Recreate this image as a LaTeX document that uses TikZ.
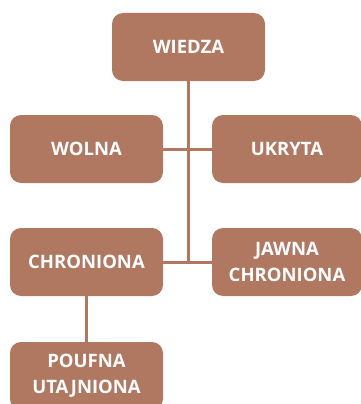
\documentclass[tikz,border=0pt]{standalone}
\usepackage{fontspec}
\setmainfont{Open Sans}
\definecolor{clay}{RGB}{176,119,97}
\begin{document}
\begin{tikzpicture}[x=1pt,y=-1pt,
  box/.style={fill=clay, draw=none, rounded corners=11pt,
    minimum width=153pt, minimum height=68pt, inner sep=0pt,
    text=white, align=center,
    font=\fontsize{18.5}{26}\selectfont\bfseries},
  link/.style={draw=clay, line width=3pt}]
  \useasboundingbox (0,0) rectangle (360,404);
  % boxes
  \node[box] (wiedza) at (188.5,47) {WIEDZA};
  \node[box] (wolna) at (86.5,149) {WOLNA};
  \node[box, minimum width=150pt] (ukryta) at (287,149) {UKRYTA};
  \node[box] (chroniona) at (86.5,262) {CHRONIONA};
  \node[box, minimum width=150pt] (jawna) at (287,262) {JAWNA\\CHRONIONA};
  \node[box] (poufna) at (86.5,376) {POUFNA\\UTAJNIONA};
  % connectors
  \coordinate (trunkend) at (wiedza.south |- chroniona.east);
  \draw[link] (wiedza.south) -- (trunkend);
  \draw[link] (wolna.east) -- (ukryta.west);
  \draw[link] (chroniona.east) -- (jawna.west);
  \draw[link] (chroniona.south) -- (poufna.north);
\end{tikzpicture}
\end{document}
